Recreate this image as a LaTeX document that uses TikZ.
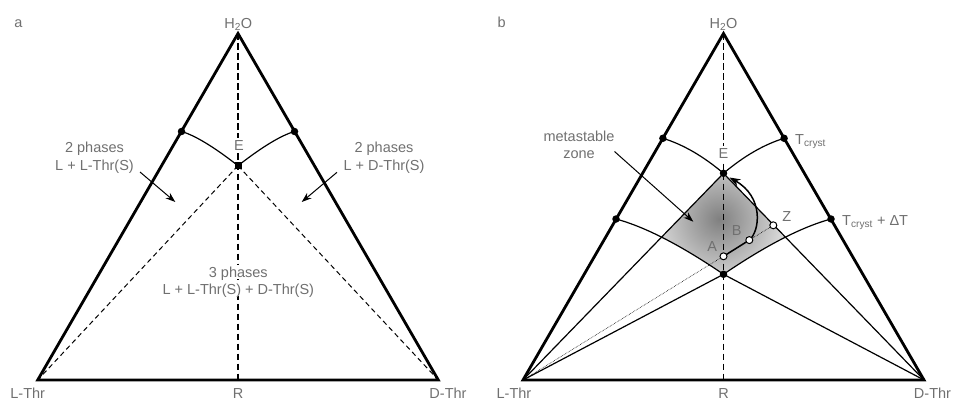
\documentclass[tikz,border=0pt]{standalone}
\usepackage{fontspec}
\setmainfont{Liberation Sans}
\usetikzlibrary{arrows.meta}
\definecolor{txt}{RGB}{112,112,112}
\definecolor{mzin}{RGB}{128,128,128}
\definecolor{mzout}{RGB}{222,222,222}
\pgfdeclareradialshading{mzone}{\pgfpoint{0bp}{0bp}}{color(0bp)=(mzin); color(25bp)=(mzout); color(50bp)=(mzout)}
\begin{document}
\begin{tikzpicture}[x=1pt,y=-1pt,
  edge/.style={line width=2.8pt, line join=miter},
  bline/.style={line width=1.2pt},
  dline/.style={line width=1.3pt, dash pattern=on 6.5pt off 3.5pt},
  ddiag/.style={line width=1pt, dash pattern=on 5pt off 3.5pt},
  dotn/.style={circle, fill=black, inner sep=0pt, minimum size=7.5pt},
  sqn/.style={rectangle, fill=black, inner sep=0pt, minimum size=7pt},
  odot/.style={circle, draw=black, fill=white, line width=1pt, inner sep=0pt, minimum size=7pt},
  lbl/.style={text=txt, font=\fontsize{14.5}{17}\selectfont, inner sep=0pt, text height=10.4pt, text depth=0pt},
  lblw/.style={lbl, fill=white, inner sep=1.5pt},
  arr/.style={line width=1pt, -{Stealth[length=10pt,width=7pt]}}
  ]
\useasboundingbox (0,0) rectangle (953,401);

% ---------------- panel a ----------------
\coordinate (La) at (37.7,380);
\coordinate (Da) at (438.3,380);
\coordinate (Ha) at (238,33.5);
\coordinate (Ra) at (238,380);
\coordinate (Ea) at (238,165.7);
\coordinate (P1) at (181.5,131.5);
\coordinate (P2) at (294.5,131.5);

\draw[dline] (Ha) -- (Ra);
\draw[ddiag] (Ea) -- (La);
\draw[ddiag] (Ea) -- (Da);
\draw[bline] (P1) .. controls (194.5,135.2) and (213.4,146.5) .. (Ea);
\draw[bline] (P2) .. controls (281.5,135.2) and (262.6,146.5) .. (Ea);
\draw[edge] (La) -- (Ha) -- (Da) -- cycle;

\node[dotn] (p1dot) at (P1) {};
\node[dotn] (p2dot) at (P2) {};
\node[sqn] (edot) at (Ea) {};

\node[lbl] (la) at (18.3,22.7) {a};
\node[lbl] (h2oa) at (238.3,23) {H\textsubscript{2}O};
\node[lblw] (elbla) at (239,145) {E};
\node[lbl] (ltha) at (27.7,393) {L-Thr};
\node[lbl] (rla) at (238,393) {R};
\node[lbl] (dtha) at (448,393) {D-Thr};
\node[lbl] (t1a) at (94.5,147.7) {2 phases};
\node[lbl] (t1b) at (94.5,165.7) {L + L-Thr(S)};
\node[lbl] (t2a) at (384,147.7) {2 phases};
\node[lbl] (t2b) at (384,165.7) {L + D-Thr(S)};
\node[lblw] (t3a) at (238.3,272) {3 phases};
\node[lblw] (t3b) at (238.3,289.3) {L + L-Thr(S) + D-Thr(S)};
\coordinate (a1s) at (140,172);
\coordinate (a1e) at (175.3,202);
\coordinate (a2s) at (337,172.3);
\coordinate (a2e) at (301.7,202);
\draw[arr] (a1s) -- (a1e);
\draw[arr] (a2s) -- (a2e);

% ---------------- panel b ----------------
\coordinate (Lb) at (523,380);
\coordinate (Db) at (924,380);
\coordinate (Hb) at (723.5,33.5);
\coordinate (Rb) at (723.5,380);
\coordinate (Eb) at (723.5,173.3);
\coordinate (Mb) at (723.5,274.3);
\coordinate (Q1) at (662.9,138.3);
\coordinate (Q2) at (784.1,138.3);
\coordinate (Q3) at (616,219);
\coordinate (Q4) at (831,219);
\coordinate (A) at (723.5,256.3);
\coordinate (B) at (749.3,240.1);
\coordinate (Z) at (773.3,225.3);
\coordinate (Etip) at (729.5,177.5);

\begin{scope}
\clip (Lb) -- (Eb) -- (Db) -- cycle;
\clip (Q3) .. controls (644.9,226.8) and (680.8,245.2) .. (Mb)
      .. controls (766.2,245.2) and (802.1,226.8) .. (Q4) -- (831,150) -- (616,150) -- cycle;
\shade[shading=mzone] (719,219) circle (68);
\end{scope}

\draw[dline] (Hb) -- (Rb);
\draw[bline] (Lb) -- (Eb) -- (Db);
\draw[bline] (Lb) -- (Mb) -- (Db);
\draw[bline] (Q1) .. controls (682.9,144.4) and (703.1,156.1) .. (Eb);
\draw[bline] (Q2) .. controls (764.1,144.4) and (743.9,156.1) .. (Eb);
\draw[bline] (Q3) .. controls (644.9,226.8) and (680.8,245.2) .. (Mb);
\draw[bline] (Q4) .. controls (802.1,226.8) and (766.2,245.2) .. (Mb);
\draw[line width=0.6pt, densely dotted] (Lb) -- (Z);
\draw[line width=1.5pt] (A) -- (B);
\draw[line width=1.5pt, -{Stealth[length=11pt,width=8pt]}] (B) .. controls (760,231) and (764,197) .. (Etip);
\draw[edge] (Lb) -- (Hb) -- (Db) -- cycle;

\node[dotn] (q1dot) at (Q1) {};
\node[dotn] (q2dot) at (Q2) {};
\node[dotn] (q3dot) at (Q3) {};
\node[dotn] (q4dot) at (Q4) {};
\node[dotn] (ebdot) at (Eb) {};
\node[dotn] (mbdot) at (Mb) {};
\node[odot] (adot) at (A) {};
\node[odot] (bdot) at (B) {};
\node[odot] (zdot) at (Z) {};

\node[lbl] (lb) at (501.7,22.7) {b};
\node[lbl] (h2ob) at (723.5,23) {H\textsubscript{2}O};
\node[lblw] (elblb) at (723.5,153) {E};
\node[lbl] (lthb) at (514,393) {L-Thr};
\node[lbl] (rlb) at (723.5,393) {R};
\node[lbl] (dthb) at (932.5,393) {D-Thr};
\node[lbl] (ms1) at (579,136) {metastable};
\node[lbl] (ms2) at (579,153.3) {zone};
\node[lbl, anchor=west] (tc1) at (795,139) {T\textsubscript{cryst}};
\node[lbl, anchor=west] (tc2) at (842,220) {T\textsubscript{cryst} + ΔT};
\node[lbl] (zl) at (786.7,216) {Z};
\node[lbl] (al) at (712.3,246.7) {A};
\node[lbl] (bl) at (736.7,230) {B};
\coordinate (m1s) at (614.5,151.5);
\coordinate (m1e) at (693.3,221.7);
\draw[arr] (m1s) -- (m1e);
\end{tikzpicture}
\end{document}
